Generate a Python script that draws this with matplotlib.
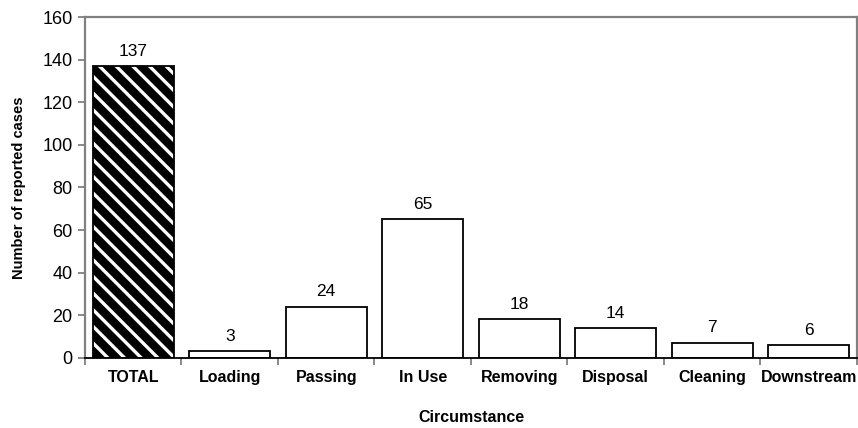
import matplotlib
matplotlib.use("Agg")
import matplotlib.pyplot as plt
import numpy as np

plt.rcParams["font.family"] = ["Liberation Sans", "DejaVu Sans"]
plt.rcParams["hatch.linewidth"] = 2.4

# Reported cases by circumstance.
categories = ["TOTAL", "Loading", "Passing", "In Use", "Removing", "Disposal", "Cleaning", "Downstream"]
cases = [137, 3, 24, 65, 18, 14, 7, 6]
y_ticks = [0, 20, 40, 60, 80, 100, 120, 140, 160]

grey = "#808080"

fig = plt.figure(figsize=(8.58, 4.28), dpi=100)
ax = fig.add_axes([0.099, 0.164, 0.8998, 0.796])

x = np.arange(len(categories))
width = 0.84

# The total bar is striped, the rest are plain white.
ax.bar(x[:1], cases[:1], width, color="black", edgecolor="white", hatch="\\\\", linewidth=0, zorder=2)
ax.bar(x[:1], cases[:1], width, fill=False, edgecolor="black", linewidth=1.3, zorder=3)
ax.bar(x[1:], cases[1:], width, color="white", edgecolor="black", linewidth=1.3, zorder=2)

for xi, val in zip(x, cases):
    ax.text(xi, val + 3.5, str(val), ha="center", va="bottom", fontsize=12.5)

ax.set_xlim(-0.5, len(categories) - 0.5)
ax.set_ylim(0, 160)
ax.set_yticks(y_ticks)
ax.tick_params(axis="y", labelsize=13, color=grey, length=5, width=1.3, pad=4)

# Category labels sit between the boundary ticks.
ax.set_xticks(np.arange(len(categories) + 1) - 0.5)
ax.set_xticklabels([])
ax.set_xticks(x, minor=True)
ax.set_xticklabels(categories, minor=True, fontsize=11.5, fontweight="bold")
ax.tick_params(axis="x", which="minor", length=0, pad=9)
ax.tick_params(axis="x", which="major", color=grey, length=5, width=1.3)

for side in ["left", "top", "right"]:
    ax.spines[side].set_color(grey)
    ax.spines[side].set_linewidth(1.6)
ax.spines["bottom"].set_color("black")
ax.spines["bottom"].set_linewidth(1.3)

ax.set_xlabel("Circumstance", fontsize=11.5, fontweight="bold", labelpad=18)
ax.set_ylabel("Number of reported cases", fontsize=10.5, fontweight="bold", labelpad=12)

fig.savefig("out.png", dpi=100)
